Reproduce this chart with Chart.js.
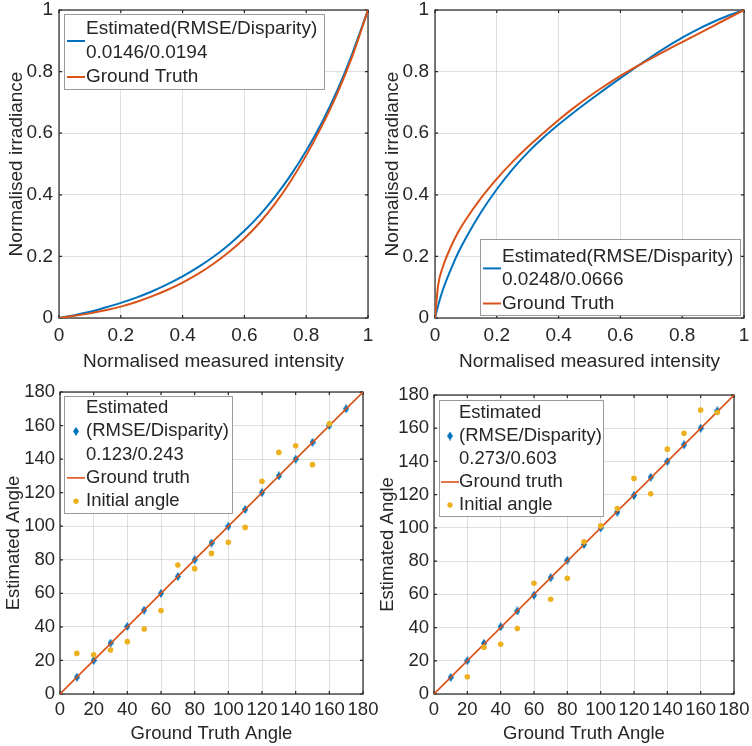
<!DOCTYPE html>
<html><head><meta charset="utf-8">
<script src="https://cdn.jsdelivr.net/npm/chart.js@4/dist/chart.umd.min.js"></script>
<style>
html,body{margin:0;padding:0;background:#fff;}
#wrap{position:relative;width:752px;height:746px;overflow:hidden;background:#fff;}
canvas{position:absolute;}
</style></head><body>
<div id="wrap">
<canvas id="c1" width="376" height="373" style="left:0;top:0"></canvas>
<canvas id="c2" width="376" height="373" style="left:376px;top:0"></canvas>
<canvas id="c3" width="392" height="373" style="left:0;top:373px"></canvas>
<canvas id="c4" width="376" height="373" style="left:376px;top:373px"></canvas>
</div>
<script>
// ---------- data ----------
const intensityA = [0,0.05,0.1,0.15,0.2,0.25,0.3,0.35,0.4,0.45,0.5,0.55,0.6,0.65,0.7,0.75,0.8,0.85,0.9,0.95,1];
const estimatedA = [0,0.009,0.020,0.034,0.049,0.066,0.086,0.109,0.135,0.165,0.199,0.238,0.283,0.335,0.395,0.464,0.543,0.633,0.738,0.861,1];
const groundTruthA = [0,0.007,0.015,0.025,0.037,0.052,0.070,0.091,0.115,0.143,0.176,0.214,0.258,0.310,0.372,0.445,0.528,0.622,0.728,0.852,1];

const intensityB = [0,0.01,0.025,0.05,0.075,0.1,0.15,0.2,0.25,0.3,0.35,0.4,0.45,0.5,0.55,0.6,0.65,0.7,0.75,0.8,0.85,0.9,0.95,1];
const estimatedB = [0,0.040,0.090,0.155,0.212,0.260,0.345,0.418,0.482,0.537,0.585,0.628,0.668,0.706,0.743,0.779,0.814,0.848,0.880,0.910,0.937,0.961,0.982,1];
const groundTruthB = [0,0.105,0.165,0.228,0.279,0.320,0.391,0.452,0.506,0.555,0.600,0.643,0.683,0.720,0.754,0.786,0.815,0.843,0.870,0.896,0.922,0.948,0.974,1];

const truthAngles = [10,20,30,40,50,60,70,80,90,100,110,120,130,140,150,160,170];
const estimatedAnglesC = [10,20,30.3,40.3,50,60,70,80,90,100,110,120,130,140,150,160,170];
const initialAnglesCx = [10,20,30,40,50,60,70,80,90,100,110,120,130,140,150,160];
const initialAnglesC = [24.2,23.4,26.2,31.2,38.7,49.7,76.9,74.7,83.8,90.4,99.3,126.8,144,148,136.7,161.1];

const estimatedAnglesD = [10,20,30.5,40.5,50,59.5,70,80.5,90,100,109.5,119.5,130.5,140,150,160,170.5];
const initialAnglesDx = [20,30,40,50,60,70,80,90,100,110,120,130,140,150,160,170];
const initialAnglesD = [10.4,28.1,29.9,39.4,66.7,57,69.7,91.6,101.2,111.7,129.8,120.5,147.4,156.9,171,169.5];

const groundLineX = [0,180];
const groundLineY = [0,180];

const unitTicks = [0,0.2,0.4,0.6,0.8,1];
const unitTickLabels = ['0','0.2','0.4','0.6','0.8','1'];
const angleTicks = [0,20,40,60,80,100,120,140,160,180];
const angleTickLabels = ['0','20','40','60','80','100','120','140','160','180'];

// ---------- styling ----------
const BLUE = '#0072BD', ORANGE = '#D95319', YELLOW = '#EDB120', INK = '#262626';
const FONT = '"Liberation Sans", Arial, Helvetica, sans-serif';
Chart.defaults.font.family = FONT;
Chart.defaults.color = INK;

const zip = (xs, ys) => xs.map((x, i) => ({x, y: ys[i]}));

function diamondImg(color){
  const c = document.createElement('canvas'); c.width = 6; c.height = 9;
  const g = c.getContext('2d'); g.fillStyle = color;
  g.beginPath(); g.moveTo(3,0); g.lineTo(6,4.5); g.lineTo(3,9); g.lineTo(0,4.5); g.closePath(); g.fill();
  return c;
}
const DIAMOND = diamondImg(BLUE);

const frame = {
  id: 'frame',
  beforeDatasetsDraw(chart){
    const {ctx, chartArea: a, scales: {x, y}} = chart;
    ctx.save();
    ctx.strokeStyle = INK; ctx.lineWidth = 1.2;
    ctx.strokeRect(a.left, a.top, a.right - a.left, a.bottom - a.top);
    const tl = 3;
    ctx.beginPath();
    x.ticks.forEach(t => { const p = x.getPixelForValue(t.value);
      ctx.moveTo(p, a.bottom); ctx.lineTo(p, a.bottom - tl);
      ctx.moveTo(p, a.top); ctx.lineTo(p, a.top + tl); });
    y.ticks.forEach(t => { const p = y.getPixelForValue(t.value);
      ctx.moveTo(a.left, p); ctx.lineTo(a.left + tl, p);
      ctx.moveTo(a.right, p); ctx.lineTo(a.right - tl, p); });
    ctx.stroke();
    ctx.restore();
  }
};

const boxLegend = {
  id: 'boxLegend',
  afterDraw(chart, args, o){
    if (!o || !o.w) return;
    const ctx = chart.ctx; ctx.save();
    ctx.fillStyle = '#fff'; ctx.fillRect(o.x, o.y, o.w, o.h);
    ctx.strokeStyle = '#9a9a9a'; ctx.lineWidth = 1;
    ctx.strokeRect(Math.round(o.x) + 0.5, Math.round(o.y) + 0.5, o.w, o.h);
    ctx.font = o.fontSize + 'px ' + FONT;
    ctx.textBaseline = 'middle'; ctx.textAlign = 'left';
    let row = 0;
    chart.data.datasets.forEach(ds => {
      const lines = ds.label.split('\n');
      const first = row;
      ctx.fillStyle = INK;
      lines.forEach(t => { ctx.fillText(t, o.textX, o.rowStart + row * o.rowStep); row++; });
      const iy = o.rowStart + ((first + row - 1) / 2) * o.rowStep + (o.iconDy || 0);
      if (ds.legendIcon === 'line') {
        ctx.strokeStyle = ds.borderColor; ctx.lineWidth = ds.borderWidth;
        ctx.beginPath(); ctx.moveTo(o.lineX0, iy); ctx.lineTo(o.lineX1, iy); ctx.stroke();
      } else if (ds.legendIcon === 'diamond') {
        ctx.drawImage(DIAMOND, o.markX - 3, iy - 4.5);
      } else if (ds.legendIcon === 'dot') {
        ctx.fillStyle = ds.backgroundColor;
        ctx.beginPath(); ctx.arc(o.markX, iy, 2.7, 0, Math.PI * 2); ctx.fill();
      }
    });
    ctx.restore();
  }
};

function makeScales(c){
  const grid = {color: 'rgba(38,38,38,0.15)', lineWidth: 1, drawTicks: false};
  return {
    x: {
      type: 'linear', min: c.min, max: c.max,
      afterBuildTicks: s => { s.ticks = c.ticks.map(v => ({value: v})); },
      ticks: {autoSkip: false, maxRotation: 0, minRotation: 0, padding: c.xPad,
        font: {size: c.fs}, color: INK, callback: (v, i) => c.labels[i]},
      grid, border: {display: false},
      title: {display: true, text: c.xTitle, font: {size: c.fs}, color: INK, padding: {top: 0, bottom: c.xTitlePad}},
      afterFit: s => { s.height = c.bottomH; s.paddingLeft = 0; s.paddingRight = 0; }
    },
    y: {
      type: 'linear', min: c.min, max: c.max,
      afterBuildTicks: s => { s.ticks = c.ticks.map(v => ({value: v})); },
      ticks: {autoSkip: false, padding: c.yPad, font: {size: c.fs}, color: INK, callback: (v, i) => c.labels[i]},
      grid, border: {display: false},
      title: {display: true, text: c.yTitle, font: {size: c.fs}, color: INK, padding: {top: c.yTitlePad, bottom: 0}},
      afterFit: s => { s.width = c.leftW; s.paddingTop = 0; s.paddingBottom = 0; }
    }
  };
}

function makeChart(id, datasets, sc, pad, legend){
  return new Chart(document.getElementById(id), {
    type: 'scatter',
    data: {datasets},
    options: {
      responsive: false, animation: false, devicePixelRatio: 1,
      layout: {padding: {top: pad.top, right: pad.right, left: 0, bottom: 0}},
      plugins: {legend: {display: false}, tooltip: {enabled: false}, boxLegend: legend},
      scales: makeScales(sc)
    },
    plugins: [frame, boxLegend]
  });
}

const curveScale = {min: 0, max: 1, ticks: unitTicks, labels: unitTickLabels, fs: 19,
  xTitle: 'Normalised measured intensity', yTitle: 'Normalised irradiance',
  xPad: 6, yPad: 6, xTitlePad: 0, yTitlePad: 5, bottomH: 55, leftW: 59};

function curveSets(xs, est, gt, estLabel){
  return [
    {type: 'line', label: estLabel, data: zip(xs, est), borderColor: BLUE, backgroundColor: BLUE,
      borderWidth: 2, pointRadius: 0, cubicInterpolationMode: 'monotone', order: 2, legendIcon: 'line'},
    {type: 'line', label: 'Ground Truth', data: zip(xs, gt), borderColor: ORANGE, backgroundColor: ORANGE,
      borderWidth: 2, pointRadius: 0, cubicInterpolationMode: 'monotone', order: 1, legendIcon: 'line'}
  ];
}

makeChart('c1', curveSets(intensityA, estimatedA, groundTruthA, 'Estimated(RMSE/Disparity)\n0.0146/0.0194'),
  curveScale, {top: 10, right: 8},
  {x: 64, y: 14, w: 260, h: 75, fontSize: 19, textX: 86, rowStart: 29, rowStep: 24, lineX0: 67, lineX1: 85, markX: 76});

makeChart('c2', curveSets(intensityB, estimatedB, groundTruthB, 'Estimated(RMSE/Disparity)\n0.0248/0.0666'),
  curveScale, {top: 10, right: 8},
  {x: 104, y: 239, w: 260, h: 76, fontSize: 19, textX: 126, rowStart: 256.7, rowStep: 23.4, lineX0: 107, lineX1: 125, markX: 116});

function angleSets(estY, initX, initY, stat){
  return [
    {label: 'Estimated\n(RMSE/Disparity)\n' + stat, data: zip(truthAngles, estY), pointStyle: DIAMOND,
      pointRadius: 4, showLine: false, order: 3, legendIcon: 'diamond', backgroundColor: BLUE, borderColor: BLUE},
    {type: 'line', label: 'Ground truth', data: zip(groundLineX, groundLineY), borderColor: ORANGE, backgroundColor: ORANGE,
      borderWidth: 1.6, pointRadius: 0, order: 2, legendIcon: 'line'},
    {label: 'Initial angle', data: zip(initX, initY), pointStyle: 'circle', pointRadius: 2.8, borderWidth: 0,
      backgroundColor: YELLOW, borderColor: YELLOW, showLine: false, order: 1, legendIcon: 'dot'}
  ];
}

const angleScaleC = {min: 0, max: 180, ticks: angleTicks, labels: angleTickLabels, fs: 18.5,
  xTitle: 'Ground Truth Angle', yTitle: 'Estimated Angle',
  xPad: 5, yPad: 5, xTitlePad: 1, yTitlePad: 3, bottomH: 52, leftW: 60};
const angleScaleD = Object.assign({}, angleScaleC, {leftW: 58, yTitlePad: 0.5});

makeChart('c3', angleSets(estimatedAnglesC, initialAnglesCx, initialAnglesC, '0.123/0.243'),
  angleScaleC, {top: 19, right: 29},
  {x: 64, y: 23, w: 168, h: 117, fontSize: 18.5, textX: 86, rowStart: 35, rowStep: 23.3, lineX0: 67, lineX1: 85, markX: 76});

makeChart('c4', angleSets(estimatedAnglesD, initialAnglesDx, initialAnglesD, '0.273/0.603'),
  angleScaleD, {top: 22, right: 18},
  {x: 63, y: 27, w: 164, h: 116, fontSize: 18.5, textX: 83, rowStart: 40, rowStep: 23, lineX0: 65, lineX1: 83, markX: 74});
</script>
</body></html>
